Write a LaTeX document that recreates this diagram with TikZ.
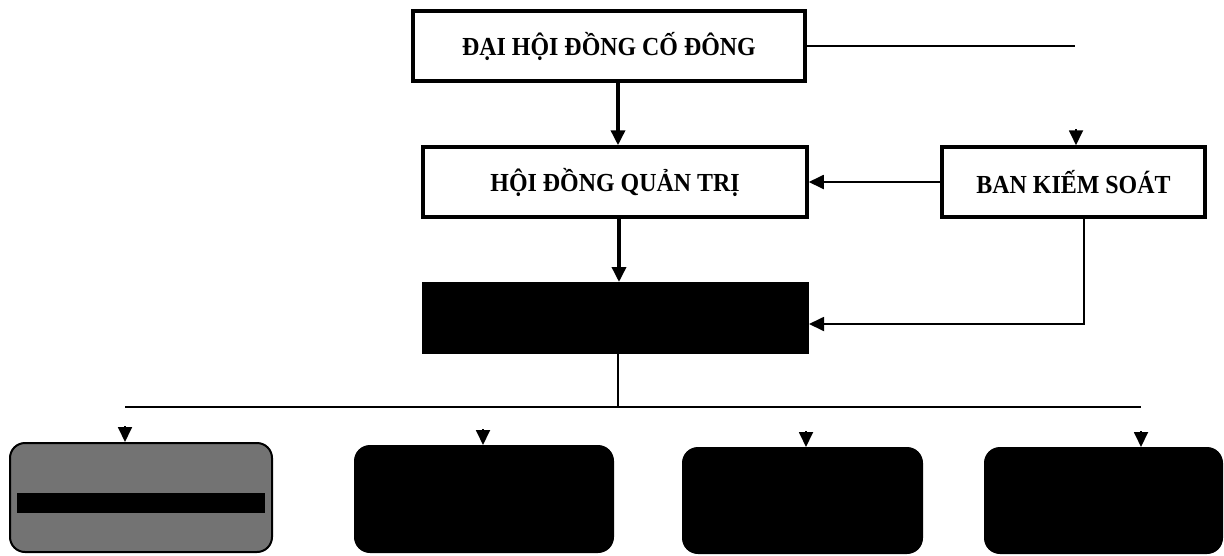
\documentclass[tikz,border=0pt]{standalone}
\usepackage{fontspec}
\setmainfont{Liberation Serif}
\newfontfamily\boxfont[FakeStretch=0.92]{Liberation Serif}
\usetikzlibrary{arrows.meta,calc}
\begin{document}
\begin{tikzpicture}[x=1pt,y=-1pt,
  box/.style={draw=black,line width=3.5pt,fill=white,inner sep=0pt,
    font=\boxfont\fontsize{26}{28}\selectfont\bfseries},
  blk/.style={draw=black,line width=2pt,fill=black,rounded corners=15pt,inner sep=0pt},
  thin/.style={line width=1.8pt},
  thick/.style={line width=3.5pt},
  tip/.style={-{Triangle[width=14pt,length=15pt]}}
]
\useasboundingbox (0,0) rectangle (1224,555);
\node[box,minimum width=392pt,minimum height=70pt] (dh) at (609,46) {ĐẠI HỘI ĐỒNG CỐ ĐÔNG};
\node[box,minimum width=384pt,minimum height=70pt] (hd) at (615,182) {HỘI ĐỒNG QUẢN TRỊ};
\node[box,minimum width=263pt,minimum height=70pt] (bk) at (1073.5,182) {BAN KIẾM SOÁT};
\node[draw=black,fill=black,line width=2pt,minimum width=385pt,minimum height=70pt,inner sep=0pt] (gd) at (615.5,318) {};
\node[blk,fill=black!55,minimum width=262pt,minimum height=109pt] (b1) at (141,497.5) {};
\fill[black] (17,493) rectangle (265,513);
\node[blk,minimum width=258pt,minimum height=106pt] (b2) at (484,499) {};
\node[blk,minimum width=239pt,minimum height=105pt] (b3) at (802.5,500.5) {};
\node[blk,minimum width=237pt,minimum height=105pt] (b4) at (1103.5,500.5) {};
% top line to the right
\coordinate (r1) at (1075,46);
\draw[thin] (dh.east) -- (dh.east -| r1);
\coordinate (bkin) at (1076,130);
\draw[tip,thin] ($(bkin |- bk.north)+(0,-16)$) -- (bkin |- bk.north);
% main chain
\draw[thick,tip] (dh.south -| 618,0) -- (hd.north -| 618,0);
\draw[thick,tip] (hd.south -| 619,0) -- (gd.north -| 619,0);
\draw[thin,tip] (bk.west) -- (hd.east);
\coordinate (c1) at (1084,324);
\draw[thin,tip] (bk.south -| c1) -- (c1) -- (gd.east |- c1);
% bus
\coordinate (bl) at (125,407);
\coordinate (br) at (1141,407);
\coordinate (bm) at (618,407);
\draw[thin] (gd.south -| bm) -- (bm);
\draw[thin] (bl) -- (br);
\foreach \n/\x in {b1/125,b2/483,b3/806,b4/1141}{
  \coordinate (t\n) at (\x,428);
  \draw[thin,tip] ($(t\n |- \n.north)+(0,-16)$) -- (t\n |- \n.north);
}
\end{tikzpicture}
\end{document}
